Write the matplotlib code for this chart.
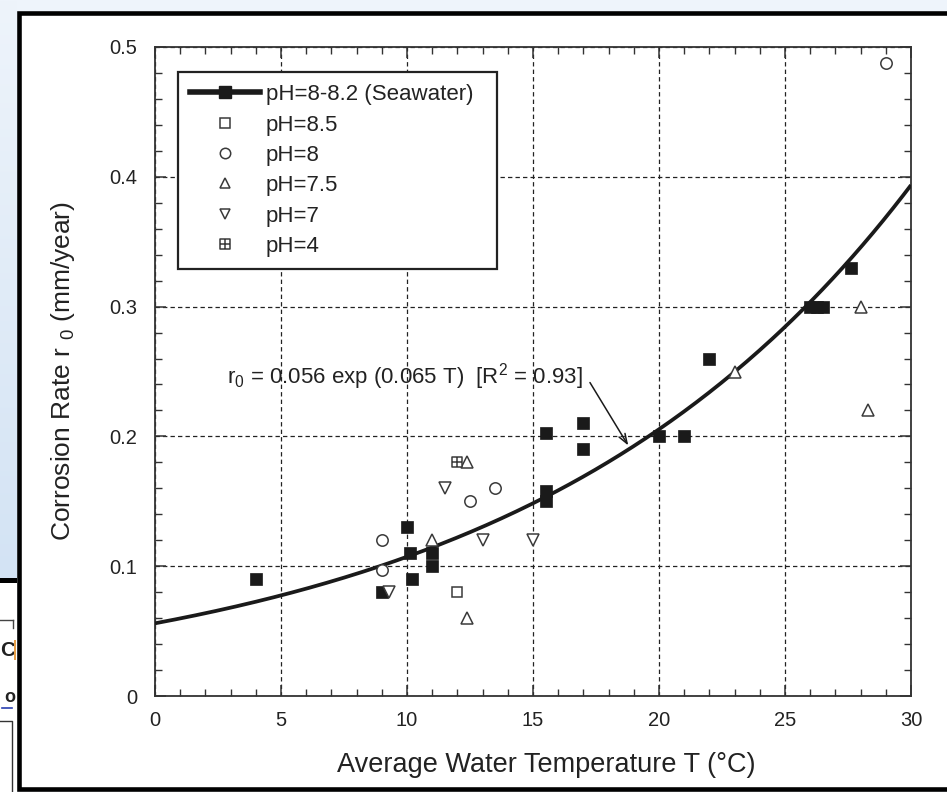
import numpy as np
import matplotlib
matplotlib.use("Agg")
import matplotlib.pyplot as plt
from matplotlib.path import Path
from matplotlib.patches import Rectangle
from matplotlib.lines import Line2D
from matplotlib.colors import LinearSegmentedColormap

plt.rcParams['font.family'] = ['Liberation Sans', 'DejaVu Sans']
plt.rcParams['mathtext.fontset'] = 'custom'
plt.rcParams['mathtext.rm'] = 'Liberation Sans'
plt.rcParams['mathtext.it'] = 'Liberation Sans:italic'

# ---------------- data ----------------
sea_T = [4.0, 9.0, 10.0, 10.1, 10.2, 11.0, 11.0, 15.5, 15.5, 15.5, 17.0, 17.0,
         20.0, 21.0, 22.0, 26.0, 26.25, 26.5, 27.6]
sea_r = [0.090, 0.080, 0.130, 0.110, 0.090, 0.110, 0.100, 0.203, 0.158, 0.150, 0.210, 0.190,
         0.200, 0.200, 0.260, 0.300, 0.300, 0.300, 0.330]

ph85_T = [12.0]
ph85_r = [0.080]

ph8_T = [9.0, 9.0, 12.5, 13.5, 29.0]
ph8_r = [0.120, 0.097, 0.150, 0.160, 0.488]

ph75_T = [11.0, 12.4, 12.4, 23.0, 28.0, 28.3]
ph75_r = [0.120, 0.180, 0.060, 0.250, 0.300, 0.220]

ph7_T = [9.3, 11.5, 13.0, 15.0]
ph7_r = [0.080, 0.160, 0.120, 0.120]

ph4_T = [12.0]
ph4_r = [0.180]

fit_a = 0.056
fit_b = 0.065

labels = ['pH=8-8.2 (Seawater)', 'pH=8.5', 'pH=8', 'pH=7.5', 'pH=7', 'pH=4']
xticks = [0, 5, 10, 15, 20, 25, 30]
yticks = [0, 0.1, 0.2, 0.3, 0.4, 0.5]
ytick_labels = ['0', '0.1', '0.2', '0.3', '0.4', '0.5']

eq_text = r'r$_{\mathrm{0}}$ = 0.056 exp (0.065 T)  [R$^{\mathrm{2}}$ = 0.93]'
eq_pos = (2.86, 0.2405)
arrow_tail = (17.26, 0.2415)
arrow_head = (18.78, 0.193)

# ---------------- figure ----------------
W, H = 947, 792
fig = plt.figure(figsize=(W / 100, H / 100), dpi=100)
fig.patch.set_facecolor('#eef4fb')

# background (screenshot surroundings) in pixel coordinates
bg = fig.add_axes([0, 0, 1, 1], zorder=-10)
bg.set_xlim(0, W)
bg.set_ylim(H, 0)
bg.axis('off')
grad = np.linspace(0, 1, 256).reshape(-1, 1)
cm = LinearSegmentedColormap.from_list('bgblue', ['#eef4fb', '#d3e3f4'])
bg.imshow(grad, cmap=cm, extent=[0, 17, 579, 0], aspect='auto', zorder=0)
bg.add_patch(Rectangle((0, 579), 17, 213, facecolor='white', edgecolor='none', zorder=1))
bg.add_patch(Rectangle((0, 578), 17, 5, facecolor='black', edgecolor='none', zorder=2))
bg.plot([0, 13], [620, 620], color='#444', lw=1, zorder=2)
bg.plot([13, 13], [620, 628], color='#444', lw=1, zorder=2)
bg.text(0, 650, 'C', fontsize=15, fontweight='bold', color='#222', va='center', ha='left', zorder=2)
bg.add_patch(Rectangle((13.5, 640), 2, 20, facecolor='#e8a048', edgecolor='none', zorder=2))
bg.text(4, 698, 'o', fontsize=13, fontweight='bold', color='#222', va='center', ha='left', zorder=2)
bg.plot([2, 12], [708, 708], color='#2a3fb0', lw=1.2, zorder=2)
bg.plot([0, 12, 12], [721, 721, 792], color='#333', lw=1, zorder=2)
# framed white panel
bg.add_patch(Rectangle((18.7, 13.3), 960, 775.5, facecolor='white', edgecolor='black',
                       lw=3.3, zorder=3))

# ---------------- main axes ----------------
ax = fig.add_axes([155 / W, 96 / H, 756 / W, 649 / H])
ax.set_facecolor('white')
ax.set_xlim(0, 30)
ax.set_ylim(0, 0.5)

ink = '#1a1a1a'
edge = '#3a3a3a'

Tfit = np.linspace(0, 30, 300)
ax.plot(Tfit, fit_a * np.exp(fit_b * Tfit), color=ink, lw=2.7, zorder=3, solid_capstyle='butt')

ax.plot(sea_T, sea_r, 's', ms=9.2, mfc=ink, mec=ink, mew=0.5, zorder=4)
ax.plot(ph85_T, ph85_r, 's', ms=7.5, mfc='white', mec=edge, mew=1.1, zorder=4)
ax.plot(ph8_T, ph8_r, 'o', ms=8.2, mfc='white', mec=edge, mew=1.1, zorder=4)
ax.plot(ph75_T, ph75_r, '^', ms=8.0, mfc='white', mec=edge, mew=1.1, zorder=4)
ax.plot(ph7_T, ph7_r, 'v', ms=8.0, mfc='white', mec=edge, mew=1.1, zorder=4)
boxplus = Path([(-1, -1), (1, -1), (1, 1), (-1, 1), (-1, -1),
                (0, -1), (0, 1), (-1, 0), (1, 0)],
               [Path.MOVETO, Path.LINETO, Path.LINETO, Path.LINETO, Path.CLOSEPOLY,
                Path.MOVETO, Path.LINETO, Path.MOVETO, Path.LINETO])
ax.plot(ph4_T, ph4_r, marker=boxplus, ls='none', ms=7.5, mfc='white', mec=edge, mew=1.1, zorder=4)

# ticks, grid
ax.set_xticks(xticks)
ax.set_xticklabels([str(t) for t in xticks])
ax.set_yticks(yticks)
ax.set_yticklabels(ytick_labels)
ax.set_xticks(np.arange(0, 31, 1), minor=True)
ax.set_yticks(np.arange(0, 0.501, 0.02), minor=True)
ax.tick_params(which='both', direction='in', top=True, right=True, colors='#333',
               labelcolor='#222')
ax.tick_params(which='major', length=8, width=1.1, labelsize=14.5)
ax.tick_params(axis='x', which='major', pad=11)
ax.tick_params(axis='y', which='major', pad=13)
ax.tick_params(which='minor', length=5, width=1.0)
ax.grid(True, which='major', color='#222', lw=0.9, ls=(0, (3.5, 2.5)))
ax.set_axisbelow(True)
for s in ax.spines.values():
    s.set_color('#333')
    s.set_linewidth(1.3)

ax.set_xlabel('Average Water Temperature T (°C)', fontsize=19.5, color='#222')
ax.set_ylabel(r'Corrosion Rate r $_{\mathrm{0}}$ (mm/year)', fontsize=19, color='#222')
ax.xaxis.set_label_coords(0.517, -0.086)
ax.yaxis.set_label_coords(-0.103, 0.5)

# annotation
ax.text(eq_pos[0], eq_pos[1], eq_text, fontsize=16, color='#222', ha='left', va='baseline', zorder=5)
ax.annotate('', xy=arrow_head, xytext=arrow_tail,
            arrowprops=dict(arrowstyle='->,head_length=0.7,head_width=0.25', color=ink, lw=1.1,
                            shrinkA=0, shrinkB=0), zorder=5)

# legend
handles = [
    Line2D([], [], color=ink, lw=4, marker='s', ms=9, mfc=ink, mec=ink),
    Line2D([], [], ls='none', marker='s', ms=7, mfc='white', mec=edge, mew=1.1),
    Line2D([], [], ls='none', marker='o', ms=7.5, mfc='white', mec=edge, mew=1.1),
    Line2D([], [], ls='none', marker='^', ms=7, mfc='white', mec=edge, mew=1.1),
    Line2D([], [], ls='none', marker='v', ms=7, mfc='white', mec=edge, mew=1.1),
    Line2D([], [], ls='none', marker=boxplus, ms=7, mfc='white', mec=edge, mew=1.1),
]
leg = ax.legend(handles, labels, loc='upper left',
                bbox_to_anchor=(0.0304, 0.5, 0.422, 0.4615), mode='expand',
                borderaxespad=0, fontsize=16, handlelength=3.15, handletextpad=0.25,
                labelspacing=0.42, borderpad=0.55, fancybox=False, framealpha=1,
                edgecolor='#222', numpoints=1)
leg.get_frame().set_linewidth(1.6)
for t in leg.get_texts():
    t.set_color('#222')
leg.set_zorder(6)

fig.savefig('out.png', dpi=100, facecolor=fig.get_facecolor())
